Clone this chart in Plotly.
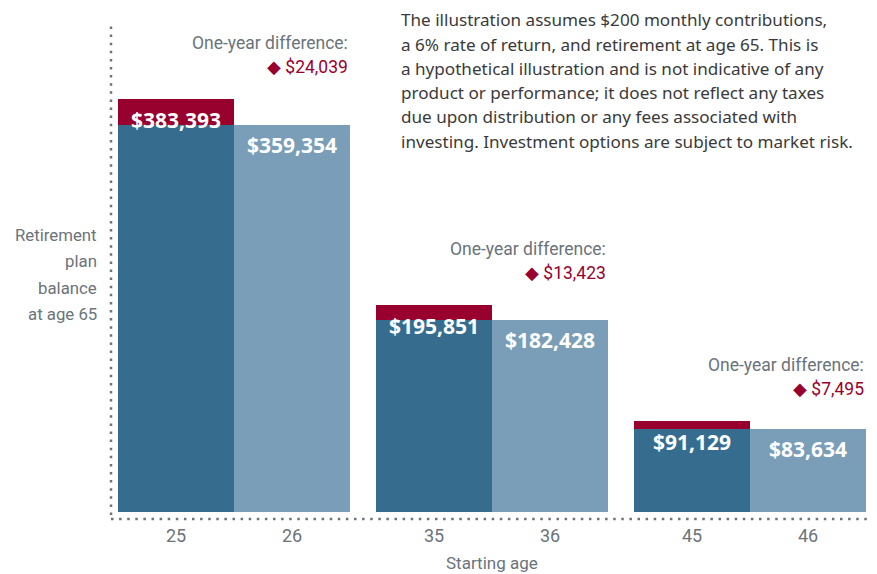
import plotly.graph_objects as go

# ---- data ----
start_ages_early = ["25", "35", "45"]
start_ages_late = ["26", "36", "46"]
balance_early = [383393, 195851, 91129]
balance_late = [359354, 182428, 83634]
difference = [e - l for e, l in zip(balance_early, balance_late)]
note_lines = [
    "The illustration assumes $200 monthly contributions,",
    "a 6% rate of return, and retirement at age 65. This is",
    "a hypothetical illustration and is not indicative of any",
    "product or performance; it does not reflect any taxes",
    "due upon distribution or any fees associated with",
    "investing. Investment options are subject to market risk.",
]
ylabel_lines = ["Retirement", "plan", "balance", "at age 65"]

# ---- style / layout ----
W, H = 877, 574
L, R, T, B = 118, 866, 40, 512
GROUP_STEP = 2.224
DARK = "#366D8F"
LIGHT = "#7A9DB8"
RED = "#98002E"
GRAY = "#6B737B"
TEXT = "#3A3A3A"
NARROW = "Roboto, Arial, sans-serif"
BOLD = "Open Sans, Noto Sans, sans-serif"

x_early = [g * GROUP_STEP for g in range(len(balance_early))]
x_late = [g * GROUP_STEP + 1 for g in range(len(balance_late))]

fig = go.Figure()
fig.add_bar(x=x_early, y=balance_late, width=1, marker=dict(color=DARK, line_width=0),
            hoverinfo="skip", showlegend=False)
fig.add_bar(x=x_early, y=difference, base=balance_late, width=1,
            marker=dict(color=RED, line_width=0), hoverinfo="skip", showlegend=False)
fig.add_bar(x=x_late, y=balance_late, width=1, marker=dict(color=LIGHT, line_width=0),
            hoverinfo="skip", showlegend=False)

ann = []
for xe, xl, be, bl, d in zip(x_early, x_late, balance_early, balance_late, difference):
    ann.append(dict(x=xe, y=be, text=f"<b>${be:,}</b>", showarrow=False, yanchor="middle",
                    yshift=-21, font=dict(family=BOLD, size=21, color="white")))
    ann.append(dict(x=xl, y=bl, text=f"<b>${bl:,}</b>", showarrow=False, yanchor="middle",
                    yshift=-20, font=dict(family=BOLD, size=21, color="white")))
    ann.append(dict(x=xl + 0.5, y=be, text="One-year difference:", showarrow=False,
                    xanchor="right", yanchor="middle", yshift=56,
                    font=dict(family=NARROW, size=17.5, color=GRAY)))
    ann.append(dict(x=xl + 0.5, y=be, text=f"◆ ${d:,}", showarrow=False,
                    xanchor="right", yanchor="middle", yshift=32,
                    font=dict(family=NARROW, size=17.5, color=RED)))

# note paragraph
for i, line in enumerate(note_lines):
    py = 20 + i * 24.2
    ann.append(dict(xref="paper", yref="paper", x=(399 - L) / (R - L), y=(B - py) / (B - T),
                    text=line, showarrow=False, xanchor="left", yanchor="middle",
                    font=dict(family="Noto Sans, Open Sans, sans-serif", size=17.1, color=TEXT)))
# y label
for i, line in enumerate(ylabel_lines):
    py = 235 + i * 26.3
    ann.append(dict(xref="paper", yref="paper", x=(99 - L) / (R - L), y=(B - py) / (B - T),
                    text=line, showarrow=False, xanchor="right", yanchor="middle",
                    font=dict(family=NARROW, size=16.8, color=GRAY)))
# x title
ann.append(dict(xref="paper", yref="paper", x=0.5, y=(B - 563) / (B - T), text="Starting age",
                showarrow=False, xanchor="center", yanchor="middle",
                font=dict(family=NARROW, size=17, color=GRAY)))

def px_x(p):
    return (p - L) / (R - L)

def px_y(p):
    return (B - p) / (B - T)

shapes = [
    dict(type="line", xref="paper", yref="paper", x0=px_x(111), x1=px_x(111),
         y0=px_y(515), y1=px_y(25), line=dict(color=GRAY, width=2.5, dash="2.5px,5.6px")),
    dict(type="line", xref="paper", yref="paper", x0=px_x(111), x1=px_x(868),
         y0=px_y(519), y1=px_y(519), line=dict(color=GRAY, width=2.5, dash="2.5px,5.6px")),
]

fig.update_layout(
    width=W, height=H, autosize=False,
    margin=dict(l=L, r=W - R, t=T, b=H - B, pad=0),
    paper_bgcolor="white", plot_bgcolor="white",
    barmode="overlay", bargap=0,
    annotations=ann, shapes=shapes,
    xaxis=dict(range=[-0.5, 2 * GROUP_STEP + 1.5], tickvals=x_early + x_late,
               ticktext=start_ages_early + start_ages_late, showgrid=False, zeroline=False,
               showline=False, ticks="", ticklabelstandoff=11,
               tickfont=dict(family=NARROW, size=18, color=GRAY)),
    yaxis=dict(range=[8000, 437000], visible=False, showgrid=False, zeroline=False),
)

fig.write_html("out.html")
